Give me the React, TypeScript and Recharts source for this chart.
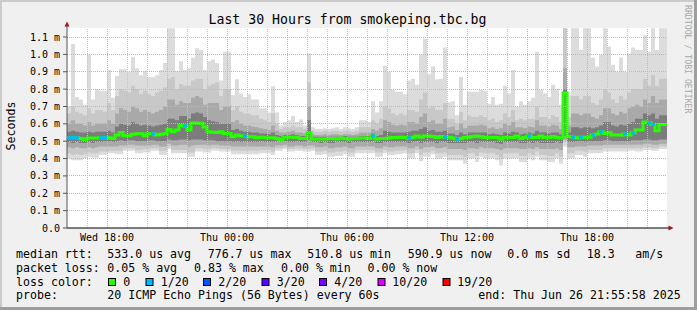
import React from 'react';
import { ComposedChart, Area, Line, Scatter, XAxis, YAxis, ReferenceLine } from 'recharts';

// 30 hours in 12 minute bins -> 150 bins, values in ms
const binCount = 150;

const maxRtt = [
  0.70, 1.06, 0.755, 0.74, 0.71, 1.00, 0.74, 0.80, 0.79, 0.79,
  0.91, 0.75, 0.875, 0.915, 0.915, 0.90, 0.985, 0.92, 0.88, 0.905,
  0.87, 0.87, 0.88, 0.91, 0.95, 1.15, 1.15, 0.905, 0.96, 0.91,
  0.92, 0.98, 1.035, 1.025, 0.91, 0.96, 0.97, 0.95, 0.85, 1.015,
  1.015, 0.765, 0.857, 0.775, 0.755, 0.77, 0.74, 0.74, 0.69, 0.69,
  0.665, 0.817, 0.665, 0.59, 0.61, 0.62, 0.645, 0.61, 0.625, 0.59,
  1.005, 0.58, 0.57, 0.57, 0.575, 0.57, 0.575, 0.58, 0.57, 0.58,
  0.575, 0.57, 0.58, 0.62, 0.62, 0.61, 0.73, 0.665, 0.73, 0.935,
  0.90, 0.795, 0.785, 0.785, 0.77, 0.85, 0.86, 0.825, 1.00, 1.09,
  0.885, 0.93, 0.857, 0.86, 1.04, 0.725, 0.73, 0.65, 0.87, 0.71,
  0.785, 0.785, 0.785, 0.795, 0.79, 0.715, 0.755, 0.71, 0.715, 0.82,
  0.775, 0.91, 0.70, 0.73, 0.71, 0.73, 0.75, 1.015, 0.795, 0.775,
  0.755, 0.825, 0.80, 0.71, 1.15, 0.765, 1.15, 1.15, 1.025, 1.15,
  1.15, 0.98, 0.93, 1.00, 1.15, 1.045, 0.94, 0.90, 0.98, 0.90,
  1.005, 1.04, 1.025, 1.025, 1.11, 1.015, 1.15, 1.025, 1.15, 1.15,
];

const hi2 = [
  0.66, 0.70, 0.67, 0.66, 0.65, 0.69, 0.66, 0.68, 0.68, 0.67, 0.72, 0.68,
  0.76, 0.80, 0.79, 0.78, 0.82, 0.80, 0.77, 0.79, 0.77, 0.76, 0.78, 0.79, 0.81,
  0.86, 0.87, 0.80, 0.83, 0.82, 0.82, 0.85, 0.86, 0.86, 0.80, 0.82, 0.83, 0.84,
  0.76, 0.80, 0.80,
  0.68, 0.70, 0.67, 0.66, 0.66, 0.65, 0.65, 0.63, 0.62, 0.61,
  0.66, 0.60, 0.57, 0.58, 0.58, 0.59, 0.58, 0.58, 0.57,
  0.84,
  0.56, 0.555, 0.555, 0.56, 0.555, 0.56, 0.56, 0.555, 0.56, 0.56, 0.555, 0.56, 0.58, 0.58,
  0.58, 0.62, 0.60, 0.63,
  0.70, 0.69, 0.66, 0.65, 0.66, 0.65, 0.68, 0.68, 0.67, 0.74, 0.78, 0.69, 0.70, 0.68, 0.68, 0.72, 0.63,
  0.63, 0.60, 0.67, 0.62, 0.65, 0.64, 0.64, 0.65, 0.64, 0.62, 0.63, 0.61, 0.62, 0.66, 0.64, 0.68, 0.62,
  0.63, 0.62, 0.63, 0.63, 0.70, 0.64, 0.64, 0.63, 0.65, 0.64, 0.61,
  1.15,
  0.64, 0.76, 0.76, 0.74, 0.76, 0.76, 0.72, 0.71, 0.74, 0.80,
  0.78, 0.74, 0.72, 0.76, 0.74, 0.78, 0.80, 0.80, 0.80, 0.86, 0.82, 0.88, 0.82, 0.86, 0.86,
];

const hi3 = [
  0.60, 0.62, 0.60, 0.60, 0.59, 0.61, 0.59, 0.60, 0.60, 0.60, 0.62, 0.60,
  0.66, 0.69, 0.68, 0.67, 0.70, 0.69, 0.67, 0.68, 0.67, 0.66, 0.67, 0.68, 0.70,
  0.74, 0.74, 0.71, 0.73, 0.72, 0.72, 0.75, 0.76, 0.75, 0.71, 0.72, 0.72, 0.72,
  0.68, 0.70, 0.70,
  0.61, 0.62, 0.60, 0.59, 0.59, 0.585, 0.58, 0.575, 0.57, 0.565,
  0.59, 0.56, 0.55, 0.55, 0.555, 0.56, 0.55, 0.55, 0.545,
  0.70,
  0.54, 0.535, 0.535, 0.54, 0.535, 0.54, 0.54, 0.535, 0.54, 0.54, 0.535, 0.54, 0.55, 0.55,
  0.55, 0.57, 0.56, 0.575,
  0.62, 0.61, 0.595, 0.59, 0.595, 0.59, 0.61, 0.61, 0.60, 0.64, 0.66, 0.61, 0.62, 0.60, 0.60, 0.63, 0.58,
  0.585, 0.565, 0.60, 0.575, 0.59, 0.59, 0.59, 0.595, 0.59, 0.575, 0.58, 0.57, 0.575, 0.60, 0.59, 0.61, 0.58,
  0.58, 0.575, 0.585, 0.58, 0.62, 0.59, 0.59, 0.585, 0.595, 0.59, 0.57,
  0.92,
  0.59, 0.66, 0.66, 0.65, 0.66, 0.66, 0.64, 0.63, 0.65, 0.69,
  0.69, 0.66, 0.65, 0.67, 0.66, 0.69, 0.70, 0.71, 0.70, 0.74, 0.72, 0.76, 0.72, 0.74, 0.74,
];

const hi4 = [
  0.555, 0.56, 0.555, 0.55, 0.55, 0.555, 0.55, 0.555, 0.555, 0.555, 0.56, 0.55,
  0.585, 0.60, 0.595, 0.59, 0.61, 0.60, 0.59, 0.595, 0.59, 0.585, 0.59, 0.595, 0.60,
  0.63, 0.63, 0.62, 0.645, 0.645, 0.63, 0.66, 0.665, 0.66, 0.64, 0.62, 0.615, 0.61,
  0.60, 0.60, 0.60,
  0.565, 0.57, 0.56, 0.555, 0.555, 0.55, 0.55, 0.545, 0.545, 0.54,
  0.55, 0.535, 0.53, 0.535, 0.535, 0.54, 0.535, 0.53, 0.53,
  0.62,
  0.525, 0.525, 0.525, 0.525, 0.525, 0.525, 0.525, 0.525, 0.53, 0.525, 0.525, 0.525, 0.53, 0.53,
  0.53, 0.545, 0.53, 0.535,
  0.56, 0.555, 0.55, 0.55, 0.55, 0.55, 0.555, 0.56, 0.56, 0.57, 0.58, 0.56, 0.565, 0.555, 0.555, 0.56, 0.545,
  0.545, 0.535, 0.55, 0.54, 0.55, 0.55, 0.55, 0.55, 0.55, 0.54, 0.545, 0.54, 0.535, 0.55, 0.545, 0.555, 0.55,
  0.54, 0.545, 0.55, 0.545, 0.56, 0.55, 0.55, 0.545, 0.55, 0.55, 0.54,
  0.80,
  0.55, 0.58, 0.58, 0.575, 0.58, 0.58, 0.575, 0.58, 0.59, 0.61,
  0.61, 0.59, 0.585, 0.595, 0.59, 0.60, 0.61, 0.63, 0.63, 0.66, 0.65, 0.66, 0.63, 0.65, 0.65,
];

const medianRtt = [
  0.52, 0.52, 0.52, 0.515, 0.51, 0.518, 0.518, 0.518, 0.52, 0.52,
  0.52, 0.515, 0.535, 0.55, 0.532, 0.532, 0.54, 0.543, 0.543, 0.532,
  0.543, 0.543, 0.535, 0.54, 0.543, 0.567, 0.555, 0.565, 0.59, 0.588,
  0.565, 0.605, 0.605, 0.603, 0.582, 0.555, 0.552, 0.55, 0.554, 0.545,
  0.545, 0.525, 0.535, 0.53, 0.53, 0.525, 0.525, 0.52, 0.523, 0.52,
  0.52, 0.52, 0.515, 0.51, 0.523, 0.523, 0.523, 0.523, 0.515, 0.515,
  0.548, 0.512, 0.512, 0.512, 0.512, 0.515, 0.515, 0.512, 0.519, 0.515,
  0.512, 0.515, 0.515, 0.519, 0.519, 0.515, 0.53, 0.512, 0.515, 0.515,
  0.519, 0.521, 0.521, 0.523, 0.521, 0.519, 0.523, 0.53, 0.523, 0.53,
  0.53, 0.527, 0.521, 0.527, 0.523, 0.523, 0.519, 0.512, 0.515, 0.521,
  0.523, 0.527, 0.53, 0.525, 0.521, 0.521, 0.521, 0.521, 0.512, 0.521,
  0.521, 0.521, 0.53, 0.515, 0.521, 0.53, 0.521, 0.521, 0.53, 0.521,
  0.521, 0.527, 0.521, 0.519, 0.777, 0.527, 0.523, 0.519, 0.523, 0.521,
  0.523, 0.535, 0.542, 0.554, 0.545, 0.548, 0.535, 0.535, 0.535, 0.542,
  0.535, 0.548, 0.565, 0.565, 0.61, 0.606, 0.596, 0.56, 0.596, 0.596,
];

const lo4 = [
  0.495, 0.49, 0.495, 0.49, 0.49, 0.495, 0.49, 0.495, 0.495, 0.50,
  0.50, 0.495, 0.50, 0.505, 0.50, 0.505, 0.505, 0.50, 0.50, 0.50,
  0.505, 0.505, 0.50, 0.50, 0.50, 0.51, 0.505, 0.505, 0.51, 0.51,
  0.505, 0.51, 0.51, 0.51, 0.505, 0.505, 0.505, 0.50, 0.50, 0.50,
  0.50, 0.495, 0.50, 0.495, 0.50, 0.495, 0.495, 0.495, 0.50, 0.495,
  0.495, 0.495, 0.50, 0.50, 0.50, 0.495, 0.495, 0.50, 0.495, 0.495,
  0.505, 0.495, 0.495, 0.49, 0.495, 0.49, 0.49, 0.495, 0.495, 0.495,
  0.49, 0.495, 0.495, 0.495, 0.495, 0.495, 0.50, 0.49, 0.49, 0.495,
  0.495, 0.495, 0.495, 0.495, 0.495, 0.49, 0.495, 0.50, 0.49, 0.495,
  0.495, 0.495, 0.49, 0.495, 0.495, 0.49, 0.49, 0.49, 0.49, 0.49,
  0.495, 0.495, 0.49, 0.495, 0.495, 0.495, 0.495, 0.49, 0.485, 0.495,
  0.495, 0.495, 0.495, 0.49, 0.49, 0.495, 0.49, 0.495, 0.49, 0.49,
  0.49, 0.49, 0.495, 0.49, 0.53, 0.495, 0.495, 0.50, 0.50, 0.495,
  0.50, 0.50, 0.50, 0.50, 0.505, 0.505, 0.50, 0.50, 0.50, 0.50,
  0.50, 0.505, 0.505, 0.505, 0.51, 0.51, 0.505, 0.505, 0.51, 0.51,
];

const lo3 = [
  0.465, 0.46, 0.465, 0.46, 0.46, 0.465, 0.46, 0.465, 0.47, 0.47,
  0.47, 0.47, 0.47, 0.475, 0.475, 0.48, 0.48, 0.475, 0.475, 0.475,
  0.475, 0.48, 0.48, 0.47, 0.47, 0.485, 0.475, 0.475, 0.48, 0.48,
  0.47, 0.475, 0.48, 0.48, 0.48, 0.475, 0.48, 0.48, 0.475, 0.475,
  0.475, 0.47, 0.47, 0.47, 0.47, 0.47, 0.47, 0.47, 0.47, 0.47,
  0.47, 0.465, 0.475, 0.475, 0.48, 0.47, 0.47, 0.475, 0.475, 0.47,
  0.475, 0.475, 0.465, 0.465, 0.47, 0.46, 0.46, 0.465, 0.465, 0.47,
  0.46, 0.46, 0.47, 0.47, 0.47, 0.47, 0.47, 0.46, 0.46, 0.47,
  0.465, 0.465, 0.47, 0.47, 0.47, 0.46, 0.46, 0.47, 0.455, 0.465,
  0.465, 0.47, 0.46, 0.46, 0.465, 0.455, 0.455, 0.455, 0.455, 0.45,
  0.46, 0.46, 0.455, 0.465, 0.46, 0.46, 0.46, 0.455, 0.45, 0.46,
  0.46, 0.46, 0.46, 0.455, 0.455, 0.46, 0.455, 0.465, 0.455, 0.455,
  0.455, 0.455, 0.46, 0.45, 0.51, 0.465, 0.465, 0.47, 0.47, 0.47,
  0.475, 0.475, 0.475, 0.475, 0.48, 0.48, 0.48, 0.48, 0.48, 0.48,
  0.48, 0.48, 0.48, 0.48, 0.485, 0.485, 0.48, 0.48, 0.485, 0.485,
];

const lo2 = [
  0.43, 0.42, 0.425, 0.42, 0.425, 0.435, 0.43, 0.43, 0.44, 0.44,
  0.445, 0.445, 0.445, 0.445, 0.46, 0.46, 0.46, 0.45, 0.45, 0.455,
  0.455, 0.46, 0.46, 0.445, 0.445, 0.47, 0.45, 0.45, 0.45, 0.45,
  0.435, 0.435, 0.46, 0.46, 0.455, 0.455, 0.46, 0.46, 0.455, 0.455,
  0.455, 0.445, 0.445, 0.445, 0.445, 0.445, 0.445, 0.445, 0.45, 0.45,
  0.45, 0.44, 0.46, 0.46, 0.465, 0.455, 0.455, 0.46, 0.46, 0.455,
  0.455, 0.46, 0.44, 0.44, 0.445, 0.435, 0.435, 0.44, 0.44, 0.445,
  0.435, 0.435, 0.45, 0.45, 0.45, 0.45, 0.45, 0.435, 0.435, 0.45,
  0.44, 0.44, 0.445, 0.445, 0.45, 0.43, 0.43, 0.45, 0.42, 0.435,
  0.435, 0.445, 0.43, 0.43, 0.435, 0.42, 0.42, 0.42, 0.42, 0.41,
  0.43, 0.43, 0.415, 0.435, 0.43, 0.43, 0.43, 0.42, 0.405, 0.43,
  0.43, 0.43, 0.43, 0.415, 0.415, 0.43, 0.42, 0.44, 0.42, 0.42,
  0.415, 0.415, 0.43, 0.41, 0.50, 0.43, 0.43, 0.445, 0.445, 0.44,
  0.45, 0.45, 0.45, 0.45, 0.46, 0.46, 0.46, 0.46, 0.46, 0.46,
  0.46, 0.46, 0.46, 0.46, 0.465, 0.465, 0.46, 0.46, 0.47, 0.47,
];

const minRtt = [
  0.40, 0.39, 0.39, 0.39, 0.40, 0.41, 0.405, 0.405, 0.42, 0.42,
  0.43, 0.43, 0.425, 0.425, 0.445, 0.445, 0.445, 0.43, 0.43, 0.435,
  0.435, 0.445, 0.445, 0.42, 0.42, 0.455, 0.43, 0.43, 0.43, 0.43,
  0.41, 0.41, 0.44, 0.44, 0.435, 0.435, 0.445, 0.445, 0.44, 0.44,
  0.44, 0.425, 0.425, 0.425, 0.425, 0.425, 0.425, 0.425, 0.43, 0.43,
  0.43, 0.42, 0.445, 0.445, 0.455, 0.44, 0.44, 0.445, 0.445, 0.44,
  0.44, 0.445, 0.42, 0.42, 0.425, 0.41, 0.41, 0.415, 0.415, 0.425,
  0.41, 0.41, 0.43, 0.43, 0.43, 0.43, 0.43, 0.41, 0.41, 0.43,
  0.42, 0.42, 0.425, 0.425, 0.43, 0.40, 0.40, 0.43, 0.385, 0.41,
  0.41, 0.425, 0.40, 0.40, 0.41, 0.39, 0.39, 0.39, 0.39, 0.37,
  0.40, 0.40, 0.38, 0.41, 0.40, 0.40, 0.40, 0.39, 0.36, 0.40,
  0.40, 0.40, 0.40, 0.38, 0.38, 0.40, 0.39, 0.41, 0.39, 0.39,
  0.38, 0.38, 0.40, 0.37, 0.47, 0.40, 0.40, 0.42, 0.42, 0.41,
  0.43, 0.43, 0.43, 0.43, 0.44, 0.44, 0.44, 0.44, 0.44, 0.44,
  0.445, 0.445, 0.44, 0.44, 0.45, 0.45, 0.445, 0.445, 0.455, 0.455,
];

// bins where 1 of 20 pings was lost
const lossBins = [0, 1, 2, 8, 9, 21, 29, 44, 76, 85, 94, 97, 115, 126, 128, 131, 133, 139, 141, 145, 146];

const timeTicks = [10, 40, 70, 100, 130];
const timeLabels = ['Wed 18:00', 'Thu 00:00', 'Thu 06:00', 'Thu 12:00', 'Thu 18:00'];
const minorGrid = [5, 15, 20, 30, 35, 45, 50, 60, 65, 75, 80, 90, 95, 105, 110, 120, 125, 135, 140];
const majorGrid = [10, 25, 40, 55, 70, 85, 100, 115, 130, 145];
const yTicks = [0, 0.1, 0.2, 0.3, 0.4, 0.5, 0.6, 0.7, 0.8, 0.9, 1.0, 1.1];

const lossColors = ['#26ff00', '#00b8ff', '#0059ff', '#5e00ff', '#7e00ff', '#dd00ff', '#ff0000'];
const lossLabels = ['0', '1/20', '2/20', '3/20', '4/20', '10/20', '19/20'];

const rows = medianRtt.map((m, i) => ({
  x: i,
  median: m,
  max: maxRtt[i],
  hi2: hi2[i],
  hi3: hi3[i],
  hi4: hi4[i],
  lo4: lo4[i],
  lo3: lo3[i],
  lo2: lo2[i],
  min: minRtt[i],
}));
// closing point so the last step reaches the right edge
rows.push({ ...rows[rows.length - 1], x: binCount });

const lossPoints = lossBins.map((i) => ({ x: i + 0.5, loss: medianRtt[i] }));

const smokeLayers = [
  { lo: 'min', hi: 'max', fill: '#dcdcdc' },
  { lo: 'lo2', hi: 'hi2', fill: '#c8c8c8' },
  { lo: 'lo3', hi: 'hi3', fill: '#a9a9a9' },
  { lo: 'lo4', hi: 'hi4', fill: '#7c7c7c' },
];

const mono = 'DejaVu Sans Mono';
const gridRed = '#e6a6a6';
const gridGray = '#c4c4c4';

const legendRows: [number, number, string][] = [
  [16, 258.3, 'median rtt:'],
  [107.3, 258.3, '533.0 us avg'],
  [207.7, 258.3, '776.7 us max'],
  [307.3, 258.3, '510.8 us min'],
  [407.7, 258.3, '590.9 us now'],
  [507.3, 258.3, '0.0 ms sd'],
  [586.7, 258.3, '18.3'],
  [635.3, 258.3, 'am/s'],
  [16, 272, 'packet loss:'],
  [107.3, 272, '0.05 % avg'],
  [194, 272, '0.83 % max'],
  [281, 272, '0.00 % min'],
  [367.5, 272, '0.00 % now'],
  [16, 285.7, 'loss color:'],
  [16, 299.4, 'probe:'],
  [107.3, 299.4, '20 ICMP Echo Pings (56 Bytes) every 60s'],
  [478.3, 299.4, 'end: Thu Jun 26 21:55:58 2025'],
];
const boxX = [108.5, 146, 203.5, 262, 319.5, 378, 443];
const boxLabelX = [123.3, 160.7, 218.3, 276.7, 334.3, 392.3, 457.3];

const LossMark = (props: any) => {
  const { cx, cy } = props;
  return <rect x={cx - 2} y={cy - 1.5} width={4} height={3} fill={lossColors[1]} />;
};

export default function App() {
  return (
    <div style={{ position: 'absolute', left: 0, top: 0, width: 697, height: 310, background: '#f0f0f0', overflow: 'hidden' }}>
      <div style={{ position: 'absolute', left: 67, top: 28, width: 600, height: 200, background: '#ffffff' }} />
      <div style={{ position: 'absolute', left: 0, top: 0 }}>
        <ComposedChart width={697} height={310} data={rows} margin={{ top: 28, right: 30, bottom: 62, left: 8 }}>
          <XAxis
            dataKey="x"
            type="number"
            domain={[0, binCount]}
            ticks={timeTicks}
            tickFormatter={(v) => timeLabels[timeTicks.indexOf(v)]}
            interval={0}
            height={20}
            tickSize={4}
            tickMargin={2}
            tickLine={false}
            axisLine={{ stroke: '#000000' }}
            tick={{ fill: '#000', fontSize: 10, fontFamily: mono }}
            allowDataOverflow
          />
          <YAxis
            type="number"
            domain={[0, 1.152]}
            ticks={yTicks}
            tickFormatter={(v) => (v === 0 ? '0.0' : `${v.toFixed(1)} m`)}
            interval={0}
            width={59}
            tickSize={4}
            tickMargin={3}
            tickLine={{ stroke: '#555555' }}
            axisLine={{ stroke: '#555555' }}
            tick={{ fill: '#000', fontSize: 10, fontFamily: mono }}
            allowDataOverflow
          />
          {smokeLayers.map((l) => (
            <Area
              key={l.hi}
              type="stepAfter"
              dataKey={(d: any) => [d[l.lo], d[l.hi]]}
              fill={l.fill}
              fillOpacity={1}
              stroke="none"
              dot={false}
              activeDot={false}
              isAnimationActive={false}
            />
          ))}
          <Line
            type="stepAfter"
            dataKey="median"
            stroke={lossColors[0]}
            strokeWidth={3}
            dot={false}
            activeDot={false}
            isAnimationActive={false}
          />
          <Scatter data={lossPoints} dataKey="loss" shape={LossMark} isAnimationActive={false} />
          {yTicks.slice(1).map((v) => (
            <ReferenceLine key={`h${v}`} y={v} stroke={gridRed} strokeDasharray="1 1" shapeRendering="crispEdges" />
          ))}
          {minorGrid.map((v) => (
            <ReferenceLine key={`m${v}`} x={v} stroke={gridGray} strokeDasharray="1 1" shapeRendering="crispEdges" />
          ))}
          {majorGrid.map((v) => (
            <ReferenceLine key={`M${v}`} x={v} stroke={gridRed} strokeDasharray="1 1" shapeRendering="crispEdges" />
          ))}
        </ComposedChart>
      </div>
      <svg width={697} height={310} style={{ position: 'absolute', left: 0, top: 0, pointerEvents: 'none' }}>
        <rect x={0} y={0} width={697} height={2} fill="#cbcbcb" />
        <rect x={0} y={0} width={2} height={310} fill="#cbcbcb" />
        <rect x={0} y={307} width={697} height={3} fill="#9e9e9e" />
        <rect x={694} y={0} width={3} height={310} fill="#9e9e9e" />
        <line x1={67} y1={28} x2={67} y2={24} stroke="#555555" />
        <polygon points="64.5,26.5 69.5,26.5 67,21.5" fill="#a01818" />
        <line x1={667} y1={228} x2={670} y2={228} stroke="#000" />
        <polygon points="668.5,225.5 668.5,230.5 673.5,228" fill="#a01818" />
        <text x={347.5} y={24} textAnchor="middle" fontFamily={mono} fontSize={13.2} fill="#000">
          Last 30 Hours from smokeping.tbc.bg
        </text>
        <text transform="translate(14.5,126) rotate(-90)" textAnchor="middle" fontFamily={mono} fontSize={11.6} fill="#000">
          Seconds
        </text>
        <text transform="translate(685,5) rotate(90)" fontFamily={mono} fontSize={8.2} fill="#a8a8a8">
          RRDTOOL / TOBI OETIKER
        </text>
        {legendRows.map(([x, y, t], i) => (
          <text key={i} x={x} y={y} fontFamily={mono} fontSize={11.6} fill="#000" style={{ whiteSpace: 'pre' }}>
            {t}
          </text>
        ))}
        {lossColors.map((c, i) => (
          <g key={c}>
            <rect x={boxX[i]} y={278.5} width={7} height={7} fill={c} stroke="#000" strokeWidth={1} />
            <text x={boxLabelX[i]} y={285.7} fontFamily={mono} fontSize={11.6} fill="#000">
              {lossLabels[i]}
            </text>
          </g>
        ))}
      </svg>
    </div>
  );
}
